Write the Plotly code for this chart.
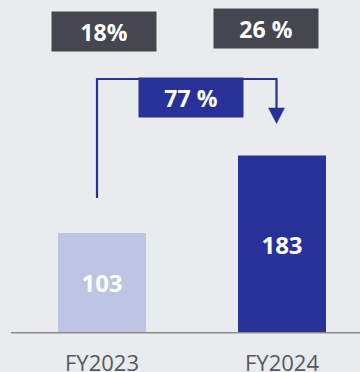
import plotly.graph_objects as go

categories = ["FY2023", "FY2024"]
values = [103, 183]
bar_colors = ["#bec5e3", "#283198"]
margin_labels = ["18%", "26 %"]
growth_label = "77 %"

W, H = 360, 372
BG = "#e8ecee"
NAVY = "#283198"

# pixel layout helpers
y0_px = 332.7          # baseline (from top)
px_per_unit = 0.968
x0_px, x_step = 102, 180

y_lo = -(H - y0_px) / px_per_unit
y_hi = y0_px / px_per_unit
x_lo = -x0_px / x_step
x_hi = (W - x0_px) / x_step

def px(xp):
    return xp / W

def py(yp):
    return 1 - yp / H

fig = go.Figure()
fig.add_trace(go.Bar(
    x=[0, 1], y=values, width=88 / x_step,
    marker=dict(color=bar_colors, line=dict(width=0)),
    text=[str(v) for v in values], textposition="inside",
    insidetextanchor="middle", textangle=0,
    textfont=dict(family="Open Sans", size=24, color="white", weight="bold"),
    hoverinfo="skip",
))

shapes = [
    # baseline
    dict(type="line", xref="paper", yref="y", x0=px(11), x1=1, y0=0, y1=0,
         line=dict(color="#8c8c8c", width=1.5)),
    # bracket
    dict(type="path", xref="paper", yref="paper",
         path=f"M {px(97)},{py(198)} L {px(97)},{py(79)} L {px(276.5)},{py(79)} L {px(276.5)},{py(110)}",
         line=dict(color=NAVY, width=2.2)),
    dict(type="path", xref="paper", yref="paper",
         path=f"M {px(268.5)},{py(108)} L {px(284.5)},{py(108)} L {px(276.5)},{py(123.5)} Z",
         fillcolor=NAVY, line=dict(color=NAVY, width=0.5)),
]

annotations = []
for i, c in enumerate(categories):
    annotations.append(dict(
        x=i, y=0, xref="x", yref="y", yshift=-29, text=c, showarrow=False,
        font=dict(family="Open Sans", size=22, color="#58595b"),
    ))

box_specs = [(104, 31.5, "#44474f", margin_labels[0]),
             (266, 28.5, "#44474f", margin_labels[1]),
             (191, 97.5, NAVY, growth_label)]
for cx, cy, col, t in box_specs:
    annotations.append(dict(
        x=px(cx), y=py(cy), xref="paper", yref="paper", text=f"<b>{t}</b>",
        showarrow=False, width=104, height=39, bgcolor=col, borderpad=0,
        xanchor="center", yanchor="middle",
        font=dict(family="Open Sans", size=23, color="white"),
    ))

fig.update_layout(
    width=W, height=H, margin=dict(l=0, r=0, t=0, b=0),
    paper_bgcolor=BG, plot_bgcolor=BG, showlegend=False,
    xaxis=dict(range=[x_lo, x_hi], visible=False, fixedrange=True),
    yaxis=dict(range=[y_lo, y_hi], visible=False, fixedrange=True),
    shapes=shapes, annotations=annotations,
)
fig.write_html("out.html", config={"displayModeBar": False})
